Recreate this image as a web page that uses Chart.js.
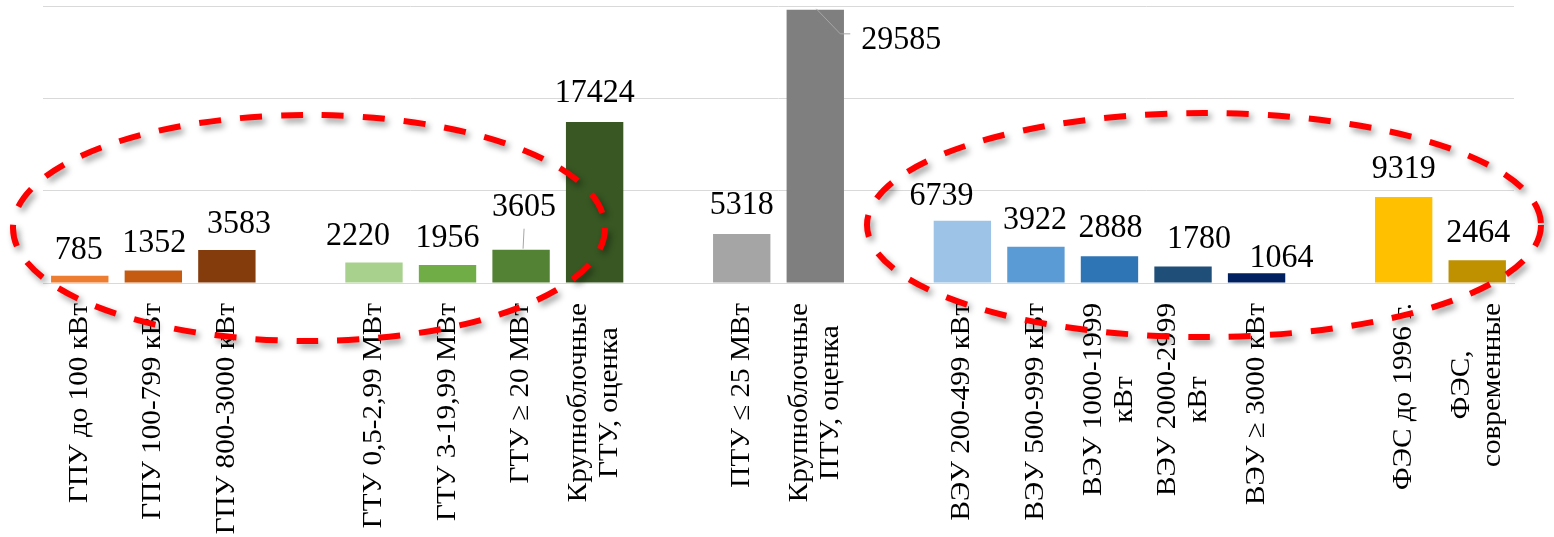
<!DOCTYPE html>
<html>
<head>
<meta charset="utf-8">
<script src="https://cdn.jsdelivr.net/npm/chart.js@4.4.0/dist/chart.umd.min.js"></script>
<style>
  html, body { margin: 0; padding: 0; background: #fff; }
  #wrap { position: relative; width: 1554px; height: 537px; }
</style>
</head>
<body>
<div id="wrap"><canvas id="chart"></canvas></div>
<script>
// categories (empty entries are the gaps between groups)
const categories = [
  ["ГПУ до 100 кВт"], ["ГПУ 100-799 кВт"], ["ГПУ 800-3000 кВт"], [""],
  ["ГТУ 0,5-2,99 МВт"], ["ГТУ 3-19,99 МВт"], ["ГТУ ≥ 20 МВт"], ["Крупноблочные", "ГТУ, оценка"], [""],
  ["ПТУ ≤ 25 МВт"], ["Крупноблочные", "ПТУ, оценка"], [""],
  ["ВЭУ 200-499 кВт"], ["ВЭУ 500-999 кВт"], ["ВЭУ 1000-1999", "кВт"], ["ВЭУ 2000-2999", "кВт"], ["ВЭУ ≥ 3000 кВт"], [""],
  ["ФЭС до 1996 г."], ["ФЭС,", "современные"]
];
const values = [
  785, 1352, 3583, null,
  2220, 1956, 3605, 17424, null,
  5318, 29585, null,
  6739, 3922, 2888, 1780, 1064, null,
  9319, 2464
];
const yTicks = [0, 10000, 20000, 30000];

const barColors = [
  "#ED7D31", "#C55A11", "#843C0C", "#ffffff",
  "#A9D18E", "#70AD47", "#548235", "#385723", "#ffffff",
  "#A5A5A5", "#7F7F7F", "#ffffff",
  "#9DC3E6", "#5B9BD5", "#2E75B6", "#1F4E79", "#002060", "#ffffff",
  "#FFC000", "#BF9000"
];

// value label nudges (px) and leader lines, like the hand-moved labels in the original
const labelDx = [-1, 1, 12, 0, -16, 0, 3, 0, 0, 0, 86, 0, -21, -1, 1, 16, 25, 0, 0, 1];
const labelDy = [1, -1, 1, 0, 0, 0, -16, -2, 0, -2, 57, 0, 2, 0, -1, -1, 12, 0, -1, 0];
const leaders = { 6: [[2, -1], [3, -21]], 10: [[1, -1], [25, 24], [35, 24]] };

const serif = "'Liberation Serif', 'Times New Roman', serif";
const stretch = 1.08; // the original text is drawn slightly taller than wide

const valueLabels = {
  id: "valueLabels",
  afterDatasetsDraw(chart) {
    const { ctx } = chart;
    const meta = chart.getDatasetMeta(0);
    ctx.save();
    meta.data.forEach((bar, i) => {
      const v = values[i];
      if (v === null || v === undefined) return;
      if (leaders[i]) {
        ctx.strokeStyle = "#a6a6a6";
        ctx.lineWidth = 1;
        ctx.beginPath();
        leaders[i].forEach(([dx, dy], k) => {
          const px = bar.x + dx, py = bar.y + dy;
          k ? ctx.lineTo(px, py) : ctx.moveTo(px, py);
        });
        ctx.stroke();
      }
      ctx.fillStyle = "#000";
      ctx.font = `32px ${serif}`;
      ctx.textAlign = "center";
      ctx.textBaseline = "alphabetic";
      ctx.save();
      ctx.translate(bar.x + labelDx[i], bar.y - 18 + labelDy[i]);
      ctx.scale(1, stretch);
      ctx.fillText(String(v), 0, 0);
      ctx.restore();
    });
    ctx.restore();
  }
};

// rotated category labels, lines centred on each other as in the original
const categoryLabels = {
  id: "categoryLabels",
  afterDraw(chart) {
    const { ctx } = chart;
    const x = chart.scales.x;
    const top = chart.chartArea.bottom + 20;
    const lineH = 31;
    ctx.save();
    ctx.fillStyle = "#000";
    ctx.font = `27px ${serif}`;
    ctx.textBaseline = "middle";
    ctx.textAlign = "right";
    categories.forEach((lines, i) => {
      const cx = x.getPixelForTick(i);
      const widths = lines.map(l => ctx.measureText(l).width * stretch);
      const maxW = Math.max(...widths);
      lines.forEach((line, k) => {
        const lx = cx + (k - (lines.length - 1) / 2) * lineH;
        const ly = top + (maxW - widths[k]) / 2;
        ctx.save();
        ctx.translate(lx, ly);
        ctx.rotate(-Math.PI / 2);
        ctx.scale(stretch, 1);
        ctx.fillText(line, 0, 0);
        ctx.restore();
      });
    });
    ctx.restore();
  }
};

// red dashed ellipses drawn over the chart
const ellipses = [
  { cx: 309, cy: 228, rx: 296, ry: 113 },
  { cx: 1204, cy: 225, rx: 337, ry: 112 }
];
const ellipseMarks = {
  id: "ellipseMarks",
  afterDraw(chart) {
    const { ctx } = chart;
    ctx.save();
    ctx.strokeStyle = "#ff0000";
    ctx.lineWidth = 6;
    ctx.setLineDash([22, 19]);
    ctx.shadowColor = "rgba(0,0,0,0.4)";
    ctx.shadowBlur = 6;
    ctx.shadowOffsetX = 3;
    ctx.shadowOffsetY = 4;
    ellipses.forEach(e => {
      ctx.beginPath();
      ctx.ellipse(e.cx, e.cy, e.rx, e.ry, 0, 0, Math.PI * 2);
      ctx.stroke();
    });
    ctx.restore();
  }
};

new Chart(document.getElementById("chart"), {
  type: "bar",
  data: {
    labels: categories,
    datasets: [{
      data: values,
      backgroundColor: barColors,
      borderWidth: 0,
      categoryPercentage: 1,
      barPercentage: 0.78
    }]
  },
  options: {
    responsive: true,
    maintainAspectRatio: false,
    animation: false,
    layout: { padding: { left: 43, right: 40, top: 6, bottom: 254 } },
    plugins: { legend: { display: false }, tooltip: { enabled: false } },
    scales: {
      x: {
        grid: { display: false, drawTicks: false },
        border: { display: true, color: "#d9d9d9", width: 1 },
        ticks: { display: false }
      },
      y: {
        min: yTicks[0],
        max: yTicks[yTicks.length - 1],
        afterBuildTicks: s => { s.ticks = yTicks.map(v => ({ value: v })); },
        grid: { color: "#d9d9d9", lineWidth: 1, drawTicks: false },
        border: { display: false },
        ticks: { display: false }
      }
    }
  },
  plugins: [valueLabels, categoryLabels, ellipseMarks]
});
</script>
</body>
</html>
